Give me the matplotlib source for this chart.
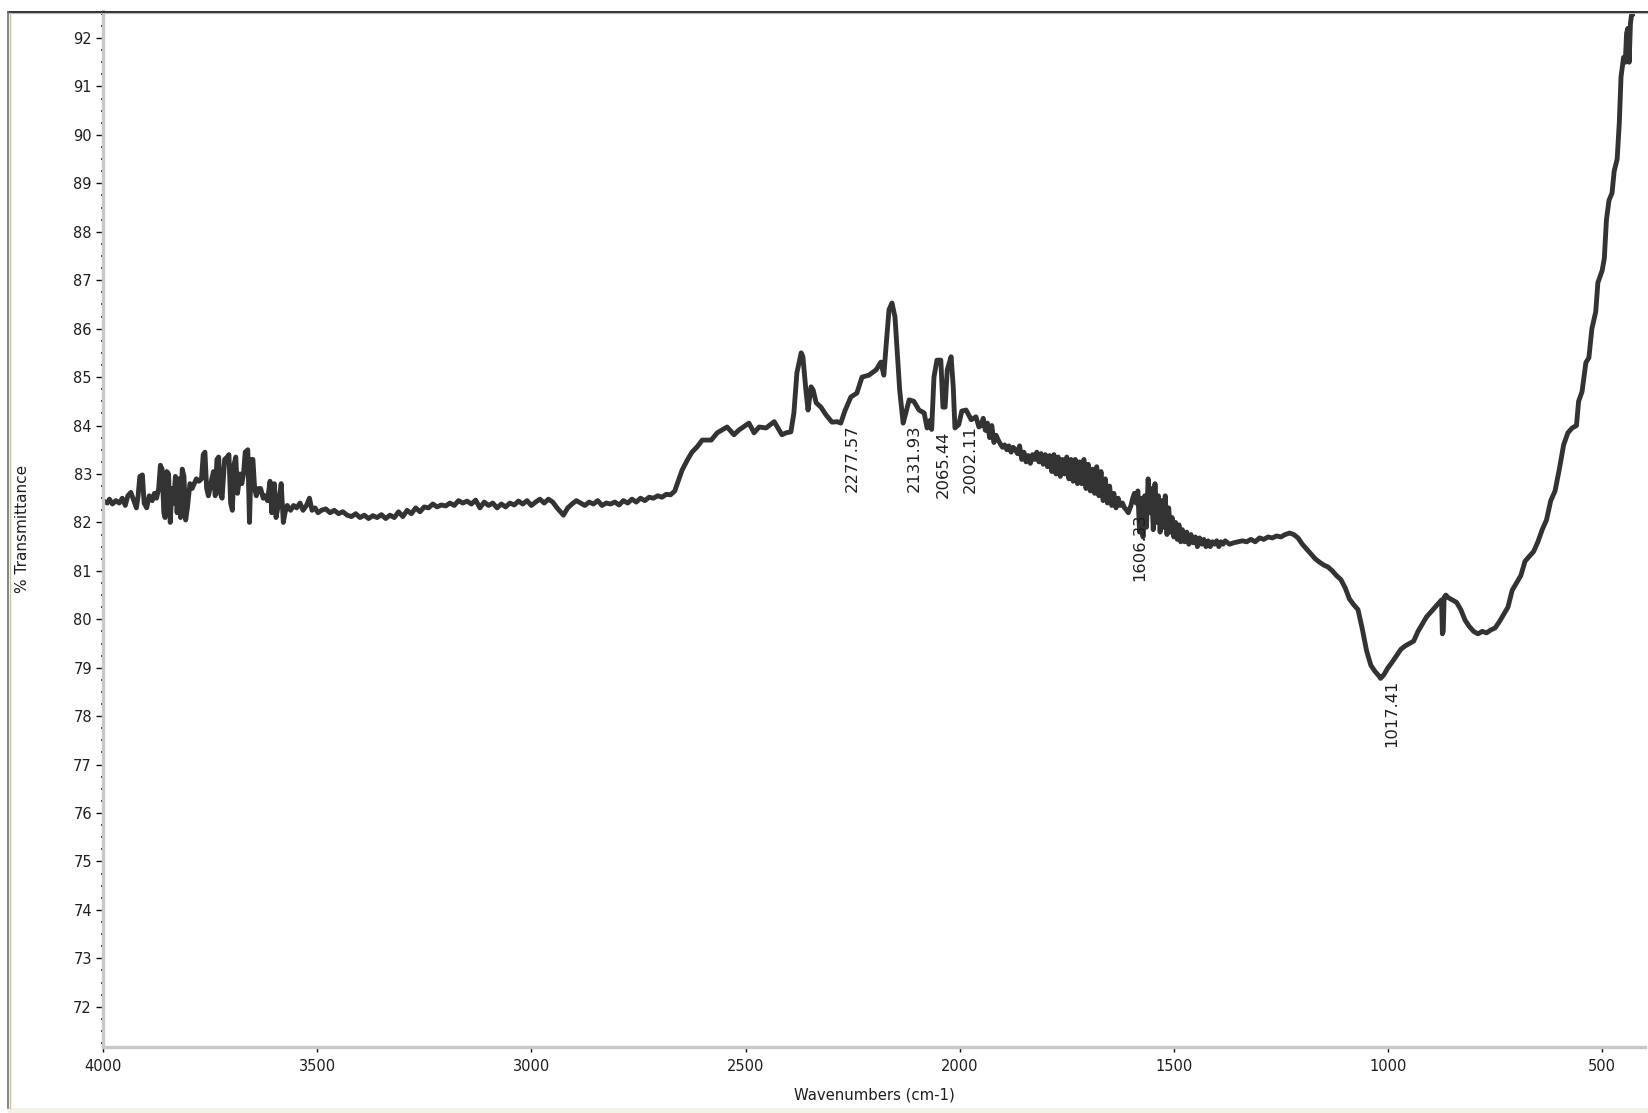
import numpy as np
import matplotlib.pyplot as plt
from matplotlib.ticker import MultipleLocator
from matplotlib.lines import Line2D
from matplotlib.patches import Rectangle

# --- Spectrum data: (wavenumber cm-1, % transmittance), high -> low ---

# 4000-3460: noisy water vapour band
band_high = np.array([
    (4000, 82.45), (3990, 82.40), (3985, 82.48), (3978, 82.38), (3970, 82.45),
    (3962, 82.40), (3955, 82.50), (3948, 82.35), (3942, 82.55), (3935, 82.62),
    (3928, 82.45), (3922, 82.30), (3918, 82.55), (3914, 82.95), (3908, 82.98),
    (3904, 82.40), (3898, 82.30), (3892, 82.55), (3885, 82.45), (3880, 82.60),
    (3875, 82.50), (3870, 82.70), (3866, 83.18), (3862, 83.10), (3858, 82.20),
    (3855, 82.10), (3851, 83.05), (3847, 83.00), (3843, 82.00), (3839, 82.70),
    (3835, 82.40), (3831, 82.95), (3827, 82.20), (3823, 82.90), (3819, 82.10),
    (3815, 83.10), (3811, 82.95), (3807, 82.05), (3803, 82.30), (3797, 82.80),
    (3792, 82.70), (3787, 82.80), (3782, 82.90), (3776, 82.85), (3770, 82.90),
    (3766, 83.40), (3762, 83.45), (3758, 82.70), (3754, 82.55), (3750, 82.70),
    (3746, 82.90), (3742, 83.05), (3738, 82.55), (3734, 83.30), (3730, 83.35),
    (3726, 82.60), (3722, 82.50), (3716, 83.30), (3710, 83.35), (3706, 83.40),
    (3702, 82.40), (3698, 82.25), (3694, 83.20), (3690, 83.35), (3686, 82.60),
    (3680, 83.00), (3676, 82.80), (3672, 83.00), (3668, 83.45), (3662, 83.50),
    (3658, 82.00), (3654, 83.30), (3650, 83.30), (3646, 82.70), (3642, 82.55),
    (3637, 82.70), (3632, 82.70), (3626, 82.50), (3622, 82.55), (3616, 82.45),
    (3610, 82.85), (3606, 82.20), (3600, 82.80), (3596, 82.10), (3590, 82.40),
    (3584, 82.80), (3579, 82.00), (3575, 82.20), (3570, 82.35), (3562, 82.25),
    (3555, 82.35), (3548, 82.30), (3540, 82.40), (3533, 82.25), (3525, 82.35),
    (3518, 82.50), (3512, 82.25), (3505, 82.30), (3498, 82.20), (3490, 82.25),
    (3480, 82.28), (3470, 82.20), (3460, 82.25),
])

# 3450-2665: flat baseline
baseline = np.array([
    (3450, 82.18), (3440, 82.22), (3430, 82.15), (3420, 82.12), (3410, 82.18),
    (3400, 82.10), (3390, 82.15), (3380, 82.08), (3370, 82.14), (3360, 82.10),
    (3350, 82.16), (3340, 82.08), (3330, 82.15), (3320, 82.10), (3310, 82.22),
    (3300, 82.12), (3290, 82.25), (3280, 82.18), (3270, 82.30), (3260, 82.22),
    (3250, 82.32), (3240, 82.30), (3230, 82.38), (3220, 82.32), (3210, 82.36),
    (3200, 82.34), (3190, 82.40), (3180, 82.35), (3170, 82.45), (3160, 82.40),
    (3150, 82.44), (3140, 82.38), (3130, 82.46), (3120, 82.30), (3110, 82.42),
    (3100, 82.35), (3090, 82.40), (3080, 82.30), (3070, 82.38), (3060, 82.32),
    (3050, 82.40), (3040, 82.36), (3030, 82.44), (3020, 82.38), (3010, 82.45),
    (3000, 82.35), (2990, 82.42), (2980, 82.48), (2970, 82.40), (2960, 82.48),
    (2950, 82.42), (2940, 82.30), (2930, 82.20), (2925, 82.15), (2915, 82.30),
    (2905, 82.38), (2895, 82.45), (2885, 82.40), (2875, 82.35), (2865, 82.42),
    (2855, 82.38), (2845, 82.45), (2835, 82.35), (2825, 82.40), (2815, 82.38),
    (2805, 82.42), (2795, 82.36), (2785, 82.45), (2775, 82.40), (2765, 82.48),
    (2755, 82.42), (2745, 82.50), (2735, 82.45), (2725, 82.52), (2715, 82.50),
    (2705, 82.55), (2695, 82.52), (2685, 82.58), (2675, 82.57), (2665, 82.65),
])

# 2662-1955: step and the CO2 / triple bond peaks
peak_region = np.array([
    (2662, 82.73), (2648, 83.08), (2635, 83.30), (2625, 83.45), (2613, 83.56),
    (2601, 83.70), (2580, 83.70), (2566, 83.85), (2543, 83.97), (2527, 83.81),
    (2515, 83.91), (2492, 84.05), (2480, 83.85), (2468, 83.97), (2452, 83.95),
    (2433, 84.08), (2415, 83.81), (2405, 83.85), (2394, 83.87), (2387, 84.26),
    (2380, 85.09), (2370, 85.50), (2366, 85.42), (2359, 84.73), (2354, 84.32),
    (2347, 84.80), (2342, 84.73), (2335, 84.47), (2324, 84.38), (2312, 84.22),
    (2298, 84.07), (2286, 84.08), (2277.57, 84.05), (2268, 84.30), (2254, 84.59),
    (2240, 84.67), (2228, 85.00), (2212, 85.04), (2195, 85.15), (2184, 85.31),
    (2177, 85.04), (2172, 85.62), (2165, 86.39), (2158, 86.53), (2151, 86.24),
    (2146, 85.56), (2140, 84.73), (2131.93, 84.05), (2128, 84.18), (2118, 84.53),
    (2107, 84.50), (2095, 84.32), (2083, 84.26), (2076, 83.95), (2070, 84.10),
    (2065.44, 83.92), (2060, 85.00), (2053, 85.35), (2044, 85.35), (2039, 84.38),
    (2034, 84.38), (2029, 85.15), (2020, 85.42), (2015, 84.80), (2011, 83.95),
    (2002.11, 84.02), (1995, 84.30), (1985, 84.32), (1973, 84.12), (1962, 84.18),
    (1955, 83.97),
])

# 1950-1380: noisy slope down to the fingerprint region
slope_region = np.array([
    (1950, 84.00), (1945, 84.15), (1940, 83.90), (1935, 84.05), (1930, 83.75),
    (1925, 84.00), (1920, 83.65), (1915, 83.80), (1910, 83.70), (1905, 83.62),
    (1900, 83.55), (1895, 83.60), (1890, 83.50), (1885, 83.58), (1880, 83.45),
    (1875, 83.55), (1870, 83.50), (1865, 83.42), (1860, 83.58), (1855, 83.30),
    (1850, 83.45), (1845, 83.25), (1840, 83.38), (1835, 83.22), (1830, 83.40),
    (1825, 83.30), (1820, 83.45), (1815, 83.25), (1810, 83.42), (1805, 83.20),
    (1800, 83.40), (1795, 83.15), (1790, 83.38), (1785, 83.05), (1780, 83.40),
    (1775, 83.00), (1770, 83.35), (1765, 82.95), (1760, 83.30), (1755, 83.00),
    (1750, 83.35), (1745, 82.90), (1740, 83.30), (1735, 82.85), (1730, 83.30),
    (1725, 82.80), (1720, 83.25), (1715, 82.80), (1710, 83.30), (1705, 82.70),
    (1700, 83.20), (1695, 82.65), (1690, 83.10), (1685, 82.60), (1680, 83.15),
    (1675, 82.55), (1670, 83.05), (1665, 82.45), (1660, 82.90), (1655, 82.40),
    (1650, 82.75), (1645, 82.35), (1640, 82.60), (1635, 82.30), (1630, 82.50),
    (1625, 82.35), (1620, 82.40), (1615, 82.30), (1610, 82.25), (1606.33, 82.20),
    (1600, 82.35), (1596, 82.50), (1592, 82.60), (1588, 82.40), (1584, 82.65),
    (1580, 81.80), (1576, 82.50), (1572, 81.70), (1568, 82.55), (1564, 81.90),
    (1560, 82.90), (1556, 82.20), (1552, 82.70), (1548, 81.85), (1544, 82.80),
    (1540, 82.00), (1536, 82.55), (1532, 81.80), (1528, 82.45), (1524, 81.90),
    (1520, 82.55), (1516, 81.75), (1512, 82.30), (1508, 81.80), (1504, 82.10),
    (1500, 81.70), (1496, 82.00), (1492, 81.65), (1488, 81.95), (1484, 81.60),
    (1480, 81.85), (1475, 81.60), (1470, 81.80), (1465, 81.55), (1460, 81.75),
    (1455, 81.58), (1450, 81.70), (1445, 81.50), (1440, 81.68), (1435, 81.55),
    (1430, 81.65), (1425, 81.50), (1420, 81.62), (1415, 81.50), (1410, 81.60),
    (1405, 81.55), (1400, 81.62), (1395, 81.50), (1390, 81.60), (1385, 81.55),
    (1380, 81.62),
])

# 1370-429: fingerprint region and the rise at the low end
fingerprint = np.array([
    (1370, 81.55), (1360, 81.58), (1350, 81.60), (1340, 81.62), (1330, 81.60),
    (1320, 81.65), (1310, 81.60), (1300, 81.68), (1290, 81.65), (1280, 81.70),
    (1270, 81.68), (1260, 81.72), (1250, 81.70), (1240, 81.75), (1230, 81.78),
    (1220, 81.75), (1210, 81.68), (1200, 81.55), (1190, 81.45), (1180, 81.35),
    (1170, 81.25), (1160, 81.18), (1150, 81.12), (1140, 81.08), (1130, 81.00),
    (1120, 80.90), (1110, 80.82), (1100, 80.65), (1090, 80.42), (1080, 80.30),
    (1070, 80.20), (1060, 79.80), (1050, 79.35), (1040, 79.05), (1030, 78.92),
    (1020, 78.82), (1017.41, 78.78), (1010, 78.85), (1000, 79.00), (990, 79.12),
    (980, 79.25), (970, 79.38), (960, 79.45), (950, 79.50), (940, 79.55),
    (930, 79.75), (920, 79.90), (910, 80.05), (900, 80.15), (890, 80.25),
    (880, 80.35), (875, 80.40), (873, 79.70), (871, 79.75), (869, 80.45),
    (865, 80.50), (860, 80.45), (850, 80.40), (840, 80.35), (830, 80.20),
    (820, 79.98), (810, 79.85), (800, 79.75), (790, 79.70), (780, 79.75),
    (770, 79.72), (760, 79.78), (750, 79.82), (740, 79.95), (730, 80.10),
    (720, 80.25), (710, 80.60), (700, 80.75), (690, 80.90), (680, 81.20),
    (670, 81.30), (660, 81.40), (650, 81.60), (640, 81.85), (630, 82.05),
    (620, 82.45), (610, 82.65), (600, 83.10), (590, 83.60), (580, 83.85),
    (570, 83.95), (560, 84.00), (555, 84.50), (547, 84.70), (538, 85.30),
    (531, 85.40), (524, 86.00), (515, 86.35), (510, 86.95), (500, 87.20),
    (495, 87.45), (490, 88.25), (484, 88.65), (477, 88.80), (472, 89.25),
    (465, 89.50), (460, 90.25), (456, 91.20), (450, 91.60), (446, 91.50),
    (443, 92.10), (440, 92.20), (437, 91.50), (434, 92.30), (431, 92.50),
    (429, 92.50),
])

peak_labels = [2277.57, 2131.93, 2065.44, 2002.11, 1606.33, 1017.41]

x_ticks = [4000, 3500, 3000, 2500, 2000, 1500, 1000, 500]
y_ticks = list(range(72, 93))


def plot_spectrum(wavenumber, transmittance):
    plt.rcParams['font.family'] = ['DejaVu Sans']
    plt.rcParams['font.size'] = 10.5
    text_color = '#1e1e1e'

    W, H = 1648, 1113
    fig = plt.figure(figsize=(W / 100, H / 100), dpi=100)
    fig.patch.set_facecolor('white')

    # window frame around the plot area
    fig.add_artist(Rectangle((8 / W, 0), 1, 5 / H, transform=fig.transFigure,
                             facecolor='#f4f2e6', edgecolor='none'))
    fig.add_artist(Line2D([8 / W, 1], [1 - 11.5 / H] * 2, transform=fig.transFigure,
                          color='#202020', lw=1.3))
    fig.add_artist(Line2D([8 / W, 1], [1 - 13 / H] * 2, transform=fig.transFigure,
                          color='#bdb9a3', lw=0.8))
    fig.add_artist(Line2D([8 / W] * 2, [5 / H, 1 - 11.5 / H], transform=fig.transFigure,
                          color='#6e6e6e', lw=1.2))
    fig.add_artist(Line2D([9.6 / W] * 2, [5 / H, 1 - 12.5 / H], transform=fig.transFigure,
                          color='#c4c0aa', lw=1.0))

    ax = fig.add_axes([103 / W, 66 / H, 1542 / W, 1035.6 / H])
    ax.set_facecolor('white')

    ax.plot(wavenumber, transmittance, color='#333333', lw=3.5, solid_joinstyle='round')

    # peak annotations
    wn_asc = wavenumber[::-1]
    t_asc = transmittance[::-1]
    for wn in peak_labels:
        t = np.interp(wn, wn_asc, t_asc)
        ax.annotate(f"{wn:.2f}", xy=(wn, t), xytext=(4, -1), textcoords='offset pixels',
                    rotation=90, ha='left', va='top', fontsize=11.8, color=text_color)

    ax.set_xlim(4000, 400)
    ax.set_ylim(71.17, 92.55)

    for side in ['top', 'right']:
        ax.spines[side].set_visible(False)
    for side in ['left', 'bottom']:
        ax.spines[side].set_color('#c8c8c8')
        ax.spines[side].set_linewidth(2.4)

    ax.set_xticks(x_ticks)
    ax.set_yticks(y_ticks)
    ax.xaxis.set_minor_locator(MultipleLocator(100))
    ax.yaxis.set_minor_locator(MultipleLocator(0.25))
    ax.tick_params(axis='x', which='major', direction='out', length=3.5, width=1.0,
                   color='#111111', pad=5, labelcolor=text_color, labelsize=10.5)
    ax.tick_params(axis='y', which='major', direction='out', length=5, width=1.0,
                   color='#111111', pad=3, labelcolor=text_color, labelsize=10.5)
    ax.tick_params(axis='x', which='minor', direction='inout', length=2, width=1.5,
                   color='#111111')
    ax.tick_params(axis='y', which='minor', direction='inout', length=3, width=1.2,
                   color='#111111')

    ax.set_xlabel('Wavenumbers (cm-1)', color=text_color, va='center', fontsize=10.7)
    ax.xaxis.set_label_coords(0.5, -0.0463)
    ax.set_ylabel('% Transmittance', color=text_color, va='center', fontsize=11)
    ax.yaxis.set_label_coords(-0.0519, 0.5)

    fig.savefig('out.png', dpi=100, facecolor='white')


def main():
    spectrum = np.vstack([band_high, baseline, peak_region, slope_region, fingerprint])
    plot_spectrum(spectrum[:, 0], spectrum[:, 1])


if __name__ == "__main__":
    main()
